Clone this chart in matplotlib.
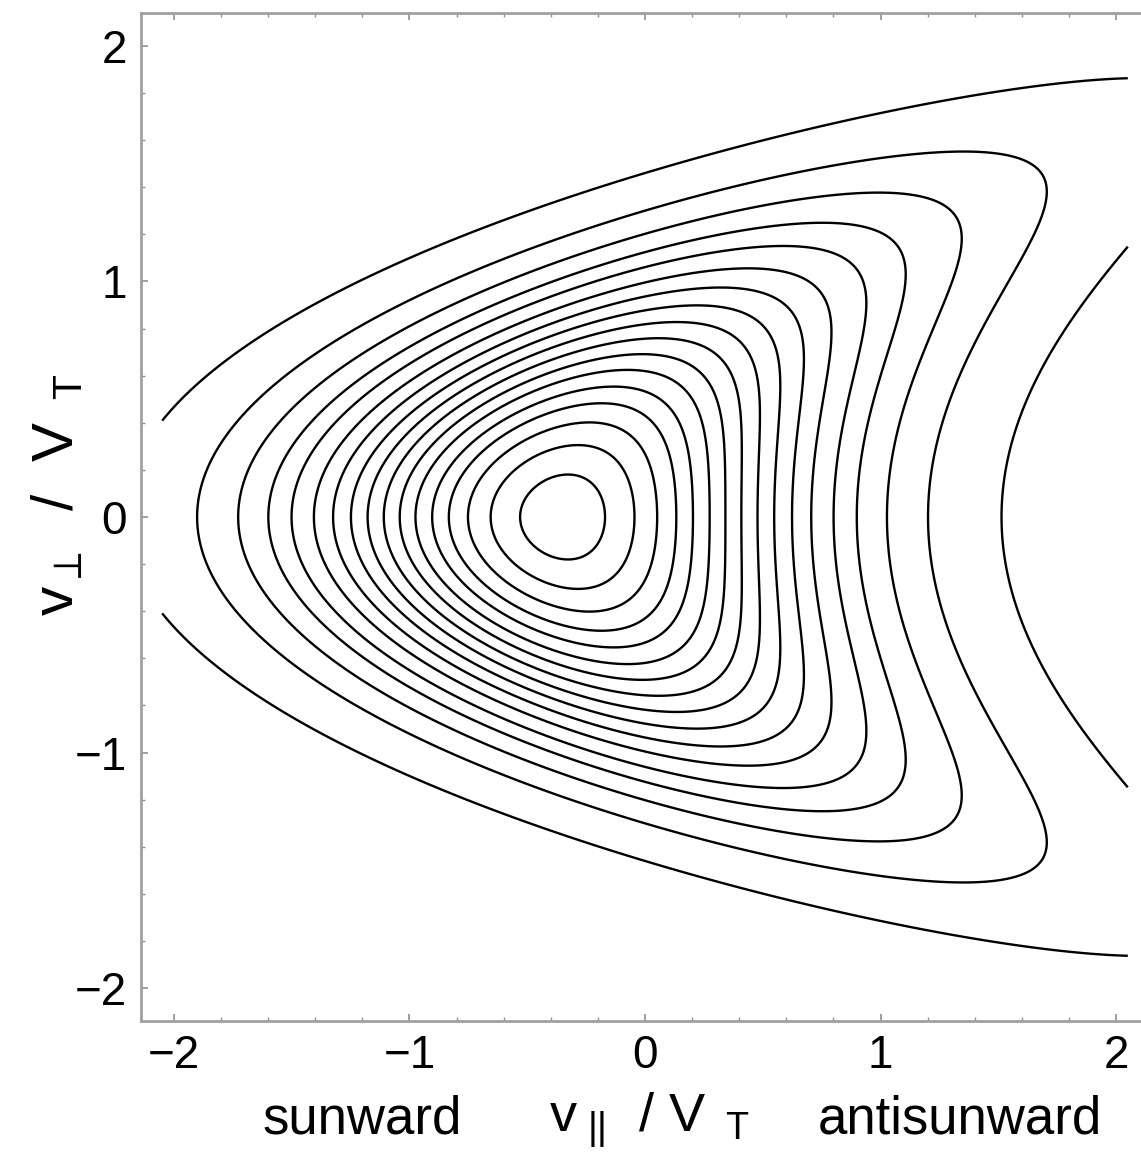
import numpy as np
import matplotlib
matplotlib.use("Agg")
from matplotlib import pyplot as plt
from matplotlib.ticker import MultipleLocator

plt.rcParams['font.family'] = ['Liberation Sans', 'DejaVu Sans']
plt.rcParams['mathtext.fontset'] = 'custom'
plt.rcParams['mathtext.rm'] = 'Liberation Sans'
plt.rcParams['mathtext.it'] = 'Liberation Sans'
plt.rcParams['mathtext.sf'] = 'Liberation Sans'

# velocity window (units of thermal speed)
v_span = [-2.05, 2.05]
axis_lim = [-2.14, 2.14]
major_ticks = [-2, -1, 0, 1, 2]
tick_text = ['\u22122', '\u22121', '0', '1', '2']

# distribution parameters
drift = -0.35        # sunward shift of the core
bend = 0.707         # parallel offset grows with v_perp^2
perp_width = 1.0

# contour levels of f / f_max
levels = [0.031, 0.090, 0.150, 0.210, 0.266, 0.328, 0.387, 0.446, 0.504,
          0.562, 0.620, 0.677, 0.736, 0.792, 0.851, 0.911, 0.968]

vpar = np.linspace(v_span[0], v_span[1], 700)
vperp = np.linspace(v_span[0], v_span[1], 700)
V, W = np.meshgrid(vpar, vperp)
f = np.exp(-(V - drift - bend * W**2)**2 - W**2 / perp_width)

fig = plt.figure(figsize=(11.41, 11.67), dpi=100)
ax = fig.add_axes([141/1141, (1167 - 1021)/1167, 1008/1141, 1008/1167])

ax.contour(V, W, f, levels=levels, colors='black', linewidths=1.7)

ax.set_xlim(axis_lim)
ax.set_ylim(axis_lim)
ax.xaxis.set_minor_locator(MultipleLocator(0.2))
ax.yaxis.set_minor_locator(MultipleLocator(0.2))
ax.set_xticks(major_ticks)
ax.set_yticks(major_ticks)
ax.set_xticklabels(tick_text)
ax.set_yticklabels(tick_text)

for s in ax.spines.values():
    s.set_color('#a0a0a0')
    s.set_linewidth(2)
ax.tick_params(which='both', direction='in', top=True, right=True,
               color='#909090', labelsize=33)
ax.tick_params(which='major', length=5, width=1.2)
ax.tick_params(which='minor', length=3, width=1)
ax.tick_params(axis='x', pad=9)
ax.tick_params(axis='y', pad=10)

# axis labels
fig.text(58/1141, 1 - 495/1167, r'$\mathregular{v_{\perp}\ \ /\ \ V_{\ \ T}}$',
         rotation=90, fontsize=42, ha='center', va='center')
fig.text(362/1141, 1 - 1120/1167, 'sunward', fontsize=38,
         ha='center', va='center')
fig.text(650/1141, 1 - 1120/1167, r'$\mathregular{v_{\ ||}\ \ /\ V_{\ \ T}}$',
         fontsize=39, ha='center', va='center')
fig.text(960/1141, 1 - 1120/1167, 'antisunward', fontsize=38,
         ha='center', va='center')

fig.savefig('out.png', dpi=100)
